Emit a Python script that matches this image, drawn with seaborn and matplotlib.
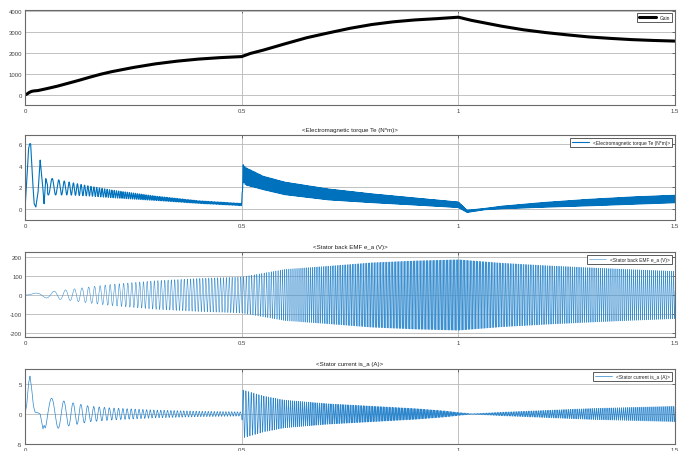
import numpy as np
import pandas as pd
import seaborn as sns
import matplotlib
matplotlib.use("Agg")
from matplotlib import pyplot as plt

# speed (Gain block output)
gain_t = [0, 0.005, 0.01, 0.015, 0.02, 0.03, 0.04, 0.05, 0.075, 0.1, 0.125, 0.15,
          0.175, 0.2, 0.25, 0.3, 0.35, 0.4, 0.45, 0.5, 0.52, 0.55, 0.575, 0.6,
          0.65, 0.7, 0.75, 0.8, 0.85, 0.9, 0.95, 1.0, 1.03, 1.07, 1.1, 1.15, 1.2,
          1.25, 1.3, 1.35, 1.4, 1.45, 1.5]
gain_v = [0, 50, 120, 170, 190, 210, 255, 300, 420, 560, 700, 850, 990, 1110,
          1310, 1480, 1610, 1710, 1780, 1830, 1980, 2140, 2290, 2440, 2730, 2960,
          3180, 3360, 3490, 3580, 3640, 3710, 3560, 3400, 3280, 3110, 2980, 2870,
          2770, 2700, 2640, 2600, 2570]
pole_pairs = 5

# electromagnetic torque: start-up transient, then mean level and ripple half-width
te_early_t = [0, 0.004, 0.008, 0.0105, 0.013, 0.017, 0.021, 0.025, 0.03, 0.035,
              0.04, 0.044, 0.048, 0.052]
te_early_v = [0, 2.5, 5.5, 6.0, 6.0, 3.0, 0.5, 0.2, 1.5, 4.5, 2.5, 0.5, 2.8, 2.2]
te_t = [0.052, 0.1, 0.15, 0.2, 0.3, 0.4, 0.5, 0.503, 0.51, 0.55, 0.6, 0.7, 0.8,
        0.9, 1.0, 1.02, 1.06, 1.1, 1.2, 1.3, 1.4, 1.5]
te_mean = [2.1, 1.9, 1.65, 1.4, 1.0, 0.65, 0.42, 3.3, 3.0, 2.4, 1.9, 1.35, 1.0,
           0.7, 0.4, -0.2, 0.0, 0.15, 0.4, 0.6, 0.78, 0.93]
te_ripple = [0.8, 0.6, 0.45, 0.35, 0.2, 0.12, 0.1, 0.8, 0.8, 0.62, 0.58, 0.5,
             0.4, 0.32, 0.25, 0.1, 0.06, 0.12, 0.22, 0.3, 0.34, 0.35]

# back EMF amplitude
emf_t = [0, 0.01, 0.02, 0.03, 0.05, 0.1, 0.15, 0.2, 0.3, 0.4, 0.5, 0.6, 0.7,
         0.8, 0.9, 1.0, 1.1, 1.2, 1.3, 1.4, 1.5]
emf_amp = [0, 5, 9, 11, 16, 28, 43, 56, 75, 87, 95, 135, 152, 170, 180, 186,
           168, 155, 144, 134, 125]

# stator current: start-up transient, then amplitude
is_early_t = [0, 0.004, 0.008, 0.0115, 0.015, 0.019, 0.023, 0.03, 0.035, 0.038,
              0.0415, 0.044, 0.047, 0.052]
is_early_v = [0, 1.5, 5.0, 6.3, 4.5, 1.5, 0.3, 0.2, 0, -1.2, -2.5, -1.5, -1.5, 0]
is_t = [0, 0.05, 0.1, 0.15, 0.2, 0.3, 0.4, 0.5, 0.503, 0.55, 0.6, 0.7, 0.8, 0.9,
        0.97, 1.0, 1.03, 1.05, 1.1, 1.2, 1.3, 1.4, 1.5]
is_amp = [2.8, 2.8, 2.0, 1.3, 1.0, 0.65, 0.45, 0.35, 4.0, 3.0, 2.3, 1.7, 1.3,
          0.9, 0.5, 0.25, 0.05, 0.1, 0.3, 0.6, 0.9, 1.1, 1.3]

titles = [None, "<Electromagnetic torque Te (N*m)>", "<Stator back EMF e_a (V)>",
          "<Stator current is_a (A)>"]
labels = ["Gain", "<Electromagnetic torque Te (N*m)>", "<Stator back EMF e_a (V)>",
          "<Stator current is_a (A)>"]
yticks = [[0, 1000, 2000, 3000, 4000], [0, 2, 4, 6], [-200, -100, 0, 100, 200],
          [-5, 0, 5]]
ylims = [(-480, 4050), (-1, 6.8), (-221, 226), (-5, 7.5)]

# build the time series from the values above
t = np.linspace(0, 1.5, 30001)
dt = t[1] - t[0]
speed = np.interp(t, gain_t, gain_v)
phase = 2 * np.pi * np.cumsum(speed * pole_pairs / 60.0) * dt

osc_te = np.interp(t, te_t, te_mean) + np.interp(t, te_t, te_ripple) * np.sin(2 * phase)
torque = np.where(t < 0.052, np.interp(t, te_early_t, te_early_v), osc_te)

emf = np.interp(t, emf_t, emf_amp) * np.sin(phase)

p0 = np.interp(0.0615, t, phase)
ramp = np.clip((t - 0.042) / 0.013, 0, 1)
current = np.interp(t, is_early_t, is_early_v, right=0) + \
    ramp * np.interp(t, is_t, is_amp) * np.cos(phase - p0)

df = pd.DataFrame({"t": t, "torque": torque, "emf": emf, "current": current})
df_gain = pd.DataFrame({"t": gain_t, "speed": gain_v})

sns.set_theme(style="white")
plt.rcParams["font.family"] = ["Liberation Sans Narrow", "Liberation Sans", "DejaVu Sans"]
plt.rcParams["axes.unicode_minus"] = False

fig = plt.figure(figsize=(6.85, 4.52), dpi=100)
rects = [[0.0365, 0.7655, 0.949, 0.210],
         [0.0365, 0.511, 0.949, 0.188],
         [0.0365, 0.2522, 0.949, 0.188],
         [0.0365, 0.0155, 0.949, 0.166]]
axes = [fig.add_axes(r) for r in rects]

blue = "#0072BD"
sns.lineplot(data=df_gain, x="t", y="speed", ax=axes[0], color="black", lw=2.2,
             label=labels[0])
sns.lineplot(data=df, x="t", y="torque", ax=axes[1], color=blue, lw=0.8,
             estimator=None, sort=False, label=labels[1])
sns.lineplot(data=df, x="t", y="emf", ax=axes[2], color="#3a8fd0", lw=0.4,
             estimator=None, sort=False, label=labels[2])
sns.lineplot(data=df, x="t", y="current", ax=axes[3], color="#2a85cc", lw=0.5,
             estimator=None, sort=False, label=labels[3])

for i, ax in enumerate(axes):
    ax.set_xlim(0, 1.5)
    ax.set_ylim(*ylims[i])
    ax.set_xticks([0, 0.5, 1, 1.5])
    ax.set_xticklabels(["0", "0.5", "1", "1.5"])
    ax.set_yticks(yticks[i])
    ax.set_yticklabels([str(v) for v in yticks[i]])
    ax.set_xlabel("")
    ax.set_ylabel("")
    ax.grid(True, color="#b8b8b8", lw=0.6)
    ax.tick_params(labelsize=4.3, direction="in", length=2, width=0.5,
                   colors="#404040", pad=2, right=True, top=True)
    for s in ax.spines.values():
        s.set_color("#6a6a6a")
        s.set_linewidth(0.8)
    if titles[i]:
        ax.set_title(titles[i], fontsize=4.4, pad=3, color="#202020")
    leg = ax.legend(loc="upper right", fontsize=3.5, frameon=True, fancybox=False,
                    framealpha=1, edgecolor="#404040", handlelength=3.5,
                    borderpad=0.4, borderaxespad=0.6)
    leg.get_frame().set_linewidth(0.6)

fig.savefig("out.png", dpi=100)
